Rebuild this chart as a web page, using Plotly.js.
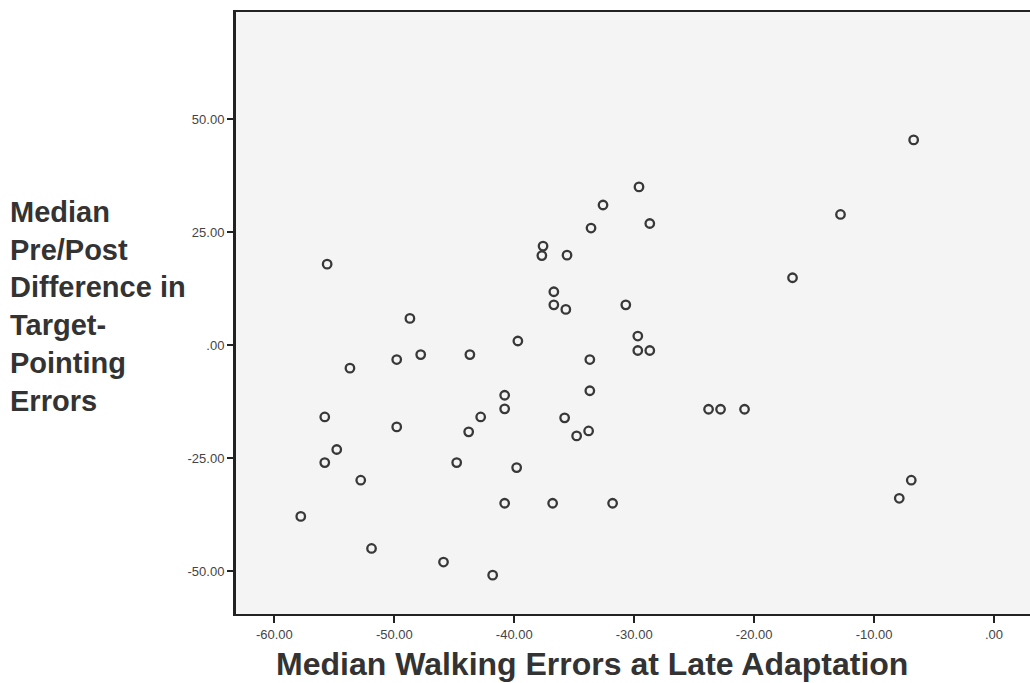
<!DOCTYPE html>
<html>
<head>
<meta charset="utf-8">
<script src="https://cdn.plot.ly/plotly-3.0.1.min.js"></script>
<style>html,body{margin:0;padding:0;background:#fff;}#chart{width:1030px;height:683px;}</style>
</head>
<body>
<div id="chart"></div>
<script>
// Median Walking Errors at Late Adaptation (x) vs Median Pre/Post Difference in Target-Pointing Errors (y)
const walkingErrors = [
  -55.6, -48.7, -39.7, -47.8, -49.8, -43.7, -53.7, -40.8, -40.8, -55.8,
  -42.8, -29.6, -32.6, -28.7, -33.6, -37.6, -37.7, -35.6, -36.7, -36.7,
  -35.7, -30.7, -29.7, -29.7, -28.7, -33.7, -33.7, -49.8, -43.8, -54.8,
  -55.8, -44.8, -39.8, -52.8, -40.8, -57.8, -51.9, -45.9, -41.8, -35.8,
  -34.8, -33.8, -36.8, -31.8, -23.8, -22.8, -20.8, -6.7, -12.8, -16.8,
  -6.9, -7.9
];
const pointingDiff = [
  17.9, 5.9, 0.9, -2.1, -3.2, -2.1, -5.1, -11.1, -14.1, -15.9,
  -15.9, 35.0, 31.0, 26.9, 25.9, 21.9, 19.8, 19.9, 11.8, 8.9,
  7.9, 8.9, 2.0, -1.2, -1.2, -3.2, -10.1, -18.1, -19.2, -23.1,
  -26.0, -26.0, -27.1, -29.9, -35.0, -37.9, -45.0, -48.0, -50.9, -16.1,
  -20.1, -19.0, -35.0, -35.0, -14.2, -14.2, -14.2, 45.4, 28.9, 14.9,
  -29.9, -33.9
];
const xTickVals = [-60, -50, -40, -30, -20, -10, 0];
const xTickText = ["-60.00", "-50.00", "-40.00", "-30.00", "-20.00", "-10.00", ".00"];
const yTickVals = [-50, -25, 0, 25, 50];
const yTickText = ["-50.00", "-25.00", ".00", "25.00", "50.00"];
const xTitle = "Median Walking Errors at Late Adaptation";
const yTitleLines = ["Median", "Pre/Post", "Difference in", "Target-", "Pointing", "Errors"];

const trace = {
  type: 'scatter',
  mode: 'markers',
  x: walkingErrors,
  y: pointingDiff,
  marker: {
    symbol: 'circle-open',
    size: 8.5,
    color: '#383838',
    line: {width: 2.3, color: '#383838'}
  },
  hoverinfo: 'x+y'
};

const layout = {
  width: 1030,
  height: 683,
  margin: {l: 236, r: 0, t: 12, b: 69, pad: 0},
  paper_bgcolor: '#ffffff',
  plot_bgcolor: '#f4f4f4',
  showlegend: false,
  font: {family: 'Liberation Sans, Arial, sans-serif', color: '#444'},
  xaxis: {
    range: [-63.2, 3.0],
    tickvals: xTickVals,
    ticktext: xTickText,
    ticks: 'outside',
    ticklen: 7,
    tickwidth: 2,
    tickcolor: '#222',
    tickfont: {size: 13, color: '#444'},
    showgrid: false,
    zeroline: false,
    showline: true,
    linecolor: '#222',
    linewidth: 2,
    mirror: true
  },
  yaxis: {
    range: [-59.5, 73.7],
    tickvals: yTickVals,
    ticktext: yTickText,
    ticks: 'outside',
    ticklen: 6,
    tickwidth: 2,
    tickcolor: '#222',
    tickfont: {size: 13, color: '#444'},
    showgrid: false,
    zeroline: false,
    showline: true,
    linecolor: '#222',
    linewidth: 3
  },
  annotations: [
    {
      xref: 'paper', yref: 'paper',
      x: 0, y: 0,
      xshift: 591.5 - 236, yshift: -50,
      xanchor: 'center', yanchor: 'middle',
      text: '<b>' + xTitle + '</b>',
      showarrow: false,
      font: {size: 32, color: '#333', family: 'Liberation Sans, Arial, sans-serif'}
    },
    {
      xref: 'paper', yref: 'paper',
      x: 0, y: 1,
      xshift: -228, yshift: -(306 - 12),
      xanchor: 'left', yanchor: 'middle',
      align: 'left',
      text: yTitleLines.map(s => '<b>' + s + '</b>').join('<br>'),
      showarrow: false,
      font: {size: 29, color: '#333', family: 'Liberation Sans, Arial, sans-serif'}
    }
  ]
};

Plotly.newPlot('chart', [trace], layout, {displayModeBar: false, staticPlot: true});
</script>
</body>
</html>
